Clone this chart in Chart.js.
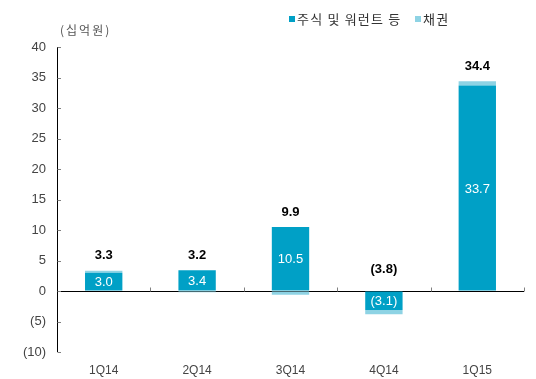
<!DOCTYPE html>
<html>
<head>
<meta charset="utf-8">
<script src="https://cdn.jsdelivr.net/npm/chart.js@4/dist/chart.umd.min.js"></script>
<style>
html,body{margin:0;padding:0;background:#fff;}
#wrap{width:536px;height:379px;position:relative;}
</style>
</head>
<body>
<div id="wrap"><canvas id="c" width="536" height="379"></canvas></div>
<script>
const categories = ['1Q14', '2Q14', '3Q14', '4Q14', '1Q15'];
const equityValues = [3.0, 3.4, 10.5, -3.1, 33.7];
const bondValues = [0.3, -0.2, -0.6, -0.7, 0.7];
const totalValues = [3.3, 3.2, 9.9, -3.8, 34.4];
const seriesNames = ['주식 및 워런트 등', '채권'];
const yTickValues = [40, 35, 30, 25, 20, 15, 10, 5, 0, -5, -10];
const unitLabel = '(십억원)';

const EQ = '#00a0c6';
const BD = '#8ed3e4';
const NUMFONT = '"Liberation Sans", Arial, sans-serif';
const KRFONT = '"Noto Sans CJK KR", sans-serif';

function fmt(v) {
  const s = Math.abs(v).toFixed(1);
  return v < 0 ? '(' + s + ')' : s;
}
function fmtTick(v) {
  return v < 0 ? '(' + Math.abs(v) + ')' : String(v);
}

const overlay = {
  id: 'overlay',
  afterDraw(chart) {
    const ctx = chart.ctx;
    const xs = chart.scales.x, ys = chart.scales.y;
    ctx.save();
    // y axis line
    ctx.strokeStyle = '#000';
    ctx.lineWidth = 1;
    ctx.beginPath();
    ctx.moveTo(Math.round(xs.left) + 0.5, ys.getPixelForValue(40));
    ctx.lineTo(Math.round(xs.left) + 0.5, ys.getPixelForValue(-10));
    ctx.stroke();
    // y ticks inside
    ctx.strokeStyle = '#808080';
    yTickValues.forEach(v => {
      const y = Math.round(ys.getPixelForValue(v)) + 0.5;
      ctx.beginPath();
      ctx.moveTo(Math.round(xs.left) + 0.5, y);
      ctx.lineTo(Math.round(xs.left) + 4, y);
      ctx.stroke();
    });
    // x ticks at category boundaries, upward
    const y0 = Math.round(ys.getPixelForValue(0)) + 0.5;
    const n = categories.length;
    const w = (xs.right - xs.left) / n;
    for (let k = 1; k <= n; k++) {
      const x = Math.round(xs.left + k * w) + 0.5;
      ctx.beginPath();
      ctx.moveTo(x, y0);
      ctx.lineTo(x, y0 - 4);
      ctx.stroke();
    }
    // inner labels (equity)
    const meta0 = chart.getDatasetMeta(0);
    ctx.fillStyle = '#ffffff';
    ctx.font = '13px ' + NUMFONT;
    ctx.textAlign = 'center';
    ctx.textBaseline = 'middle';
    meta0.data.forEach((bar, i) => {
      const cy = (bar.y + bar.base) / 2;
      ctx.fillText(fmt(equityValues[i]), bar.x, cy + 1);
    });
    // total labels
    ctx.fillStyle = '#000';
    ctx.font = 'bold 13px ' + NUMFONT;
    meta0.data.forEach((bar, i) => {
      let top = 0;
      if (equityValues[i] > 0) top += equityValues[i];
      if (bondValues[i] > 0) top += bondValues[i];
      let y;
      if (totalValues[i] < 0) y = ys.getPixelForValue(0) - 22;
      else y = ys.getPixelForValue(top) - 15;
      ctx.fillText(fmt(totalValues[i]), bar.x, y);
    });
    // unit label
    ctx.fillStyle = '#555';
    ctx.font = '12px ' + KRFONT;
    ctx.textAlign = 'left';
    ctx.letterSpacing = '2px';
    ctx.fillText(unitLabel, 60, 30);
    // legend
    const legendItems = [
      { x: 289, color: EQ, text: seriesNames[0] },
      { x: 415, color: BD, text: seriesNames[1] }
    ];
    ctx.font = '13px ' + KRFONT;
    ctx.letterSpacing = '1.2px';
    legendItems.forEach(it => {
      ctx.fillStyle = it.color;
      ctx.fillRect(it.x, 16, 6, 6);
      ctx.fillStyle = '#333';
      ctx.fillText(it.text, it.x + 8, 19);
    });
    ctx.restore();
  }
};

new Chart(document.getElementById('c'), {
  type: 'bar',
  data: {
    labels: categories,
    datasets: [
      { label: seriesNames[0], data: equityValues, backgroundColor: EQ, borderWidth: 0, categoryPercentage: 1, barPercentage: 0.4 },
      { label: seriesNames[1], data: bondValues, backgroundColor: BD, borderWidth: 0, categoryPercentage: 1, barPercentage: 0.4 }
    ]
  },
  options: {
    responsive: false,
    animation: false,
    layout: { padding: { left: 0, right: 12, top: 47, bottom: 0 } },
    plugins: { legend: { display: false }, tooltip: { enabled: false } },
    scales: {
      x: {
        stacked: true,
        grid: { display: false, drawTicks: false },
        border: { display: false },
        ticks: { color: '#444', font: { family: NUMFONT, size: 12 }, padding: 11, maxRotation: 0 },
        afterFit(s) { s.height = 27; }
      },
      y: {
        stacked: true,
        min: -10, max: 40,
        afterBuildTicks(s) { s.ticks = yTickValues.map(v => ({ value: v })); },
        grid: {
          drawTicks: false,
          color: c => (c.tick && c.tick.value === 0) ? '#000' : 'rgba(0,0,0,0)',
          lineWidth: 1
        },
        border: { display: false },
        ticks: {
          color: '#444', font: { family: NUMFONT, size: 13 }, padding: 11,
          callback: v => fmtTick(v)
        },
        afterFit(s) { s.width = 57; }
      }
    }
  },
  plugins: [overlay]
});
</script>
</body>
</html>
